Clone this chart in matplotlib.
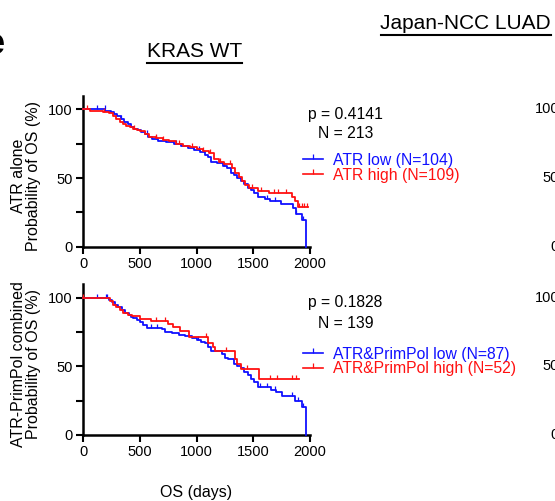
import numpy as np
import matplotlib
matplotlib.use('Agg')
import matplotlib.pyplot as plt
from matplotlib.lines import Line2D

plt.rcParams['font.family'] = ['Liberation Sans', 'DejaVu Sans']

# KM curves: step times (days) and survival (%)
top_low_t = [0, 195, 240, 270, 300, 330, 360, 390, 420, 450, 480, 510, 540, 570, 610, 660, 730, 800, 860,
             920, 980, 1030, 1070, 1100, 1130, 1180, 1230, 1270, 1300, 1330, 1360, 1390, 1420, 1450, 1480,
             1510, 1540, 1600, 1650, 1740, 1850, 1880, 1930, 1965]
top_low_s = [100, 99, 98, 96.5, 95, 93, 91, 89, 87.5, 86, 85, 83.5, 82, 80, 78.5, 77, 76, 75, 73,
             72, 70.5, 69, 67, 65, 62, 61, 59, 57, 54, 52, 50, 48, 46, 43, 41,
             39, 36, 35, 33, 31, 28.5, 24, 19.5, 0]
top_low_end = 1965
top_low_cens = [120, 190, 330, 560, 640, 820, 1020, 1240, 1620, 1690, 1880, 1940]

top_high_t = [0, 60, 170, 230, 260, 290, 320, 350, 380, 410, 440, 470, 500, 540, 580, 640, 700, 760, 820,
              880, 940, 1000, 1060, 1110, 1150, 1200, 1240, 1310, 1340, 1370, 1400, 1430, 1460, 1540, 1640,
              1840, 1870, 1895]
top_high_s = [100, 99, 98, 97, 95, 93, 91, 89.5, 88, 87, 86, 85, 84, 82, 80, 79, 78, 77, 75,
              73.5, 72.5, 71, 69.5, 68, 64, 62, 60, 57, 54, 51, 48, 45, 42.5, 40.5, 39,
              36.5, 33, 29]
top_high_end = 1985
top_high_cens = [30, 180, 450, 640, 700, 840, 960, 1060, 1120, 1210, 1290, 1490, 1570, 1680, 1720, 1790,
                 1900, 1930, 1950, 1970]

bot_low_t = [0, 225, 250, 280, 310, 340, 370, 400, 420, 440, 470, 500, 530, 560, 690, 720, 780, 840, 900,
             960, 1000, 1040, 1070, 1100, 1130, 1220, 1250, 1280, 1330, 1360, 1390, 1420, 1450, 1480, 1510,
             1545, 1660, 1700, 1750, 1870, 1930, 1965]
bot_low_s = [100, 98, 96.6, 94.7, 93, 91, 89, 87.4, 86, 85, 84, 82.5, 80, 78, 77, 75, 74, 73, 72,
             70.4, 69, 68, 66.7, 64, 61, 59, 56, 55, 52, 50.5, 48.5, 46, 43.7, 41, 38.8,
             35, 33, 31.5, 28.4, 25, 20.6, 0]
bot_low_end = 1965
bot_low_cens = [121, 196, 210, 600, 650, 1010, 1560, 1620, 1690, 1840, 1890, 1940]

bot_high_t = [0, 235, 260, 290, 320, 350, 390, 430, 500, 600, 750, 790, 850, 930, 1100, 1140, 1165, 1335,
              1355, 1390, 1550]
bot_high_s = [100, 97.5, 95, 93, 91, 89, 87, 86.5, 84.5, 83, 81, 78.5, 75.5, 71.6, 67, 64, 60.9, 55,
              52, 47.7, 40.8]
bot_high_end = 1900
bot_high_cens = [0, 640, 720, 1080, 1260, 1440, 1647, 1707, 1840, 1876]

x_ticks = [0, 500, 1000, 1500, 2000]
y_ticks = [0, 50, 100]
blue = '#1010ff'
red = '#ff1010'


def km(ax, t, s, end, cens, color):
    t = np.array(t, float)
    s = np.array(s, float)
    tt = np.append(t, end)
    ss = np.append(s, s[-1])
    ax.step(tt, ss, where='post', color=color, lw=1.3, clip_on=False, zorder=3)
    idx = np.searchsorted(t, cens, side='right') - 1
    ax.plot(cens, s[idx], ls='none', marker=2, ms=3, mew=0.9, color=color, clip_on=False, zorder=3)


def style(ax):
    ax.set_xlim(0, 2000)
    ax.set_ylim(0, 110)
    ax.set_xticks(x_ticks)
    ax.set_yticks(y_ticks)
    ax.set_yticks([25, 75], minor=True)
    for sp in ['top', 'right']:
        ax.spines[sp].set_visible(False)
    for sp in ['left', 'bottom']:
        ax.spines[sp].set_linewidth(1.8)
    ax.tick_params(which='both', length=5, width=1.5, labelsize=10.5, pad=2.5)


fig = plt.figure(figsize=(5.55, 5.01), dpi=100)
W, H = 555, 501
ax1 = fig.add_axes([83.3 / W, 1 - 246.7 / H, 226.7 / W, 151.1 / H])
ax2 = fig.add_axes([83.3 / W, 1 - 435 / H, 226.7 / W, 151.1 / H])

km(ax1, top_low_t, top_low_s, top_low_end, top_low_cens, blue)
km(ax1, top_high_t, top_high_s, top_high_end, top_high_cens, red)
km(ax2, bot_low_t, bot_low_s, bot_low_end, bot_low_cens, blue)
km(ax2, bot_high_t, bot_high_s, bot_high_end, bot_high_cens, red)

for ax in (ax1, ax2):
    style(ax)

ax1.set_ylabel('ATR alone\nProbability of OS (%)', fontsize=11.5, linespacing=1.05)
ax2.set_ylabel('ATR-PrimPol combined\nProbability of OS (%)', fontsize=11.5, linespacing=1.05)
ax1.yaxis.set_label_coords(-0.185, 0.47)
ax2.yaxis.set_label_coords(-0.185, 0.47)

fig.text(196 / W, 1 - 492 / H, 'OS (days)', ha='center', va='center', fontsize=11.5)

# p values / N
fig.text(308 / W, 1 - 115 / H, 'p = 0.4141', va='center', fontsize=11.3)
fig.text(318 / W, 1 - 133 / H, 'N = 213', va='center', fontsize=11.3)
fig.text(308 / W, 1 - 303 / H, 'p = 0.1828', va='center', fontsize=11.3)
fig.text(318 / W, 1 - 323 / H, 'N = 139', va='center', fontsize=11.3)

# legends
for ax, labels, yc in [(ax1, ['ATR low (N=104)', 'ATR high (N=109)'], 167.5),
                       (ax2, ['ATR&PrimPol low (N=87)', 'ATR&PrimPol high (N=52)'], 361.5)]:
    hs = [Line2D([], [], color=c, lw=1.2, marker=2, ms=3.5, mew=0.9) for c in (blue, red)]
    ax.legend(hs, labels, loc='center left', bbox_to_anchor=(303 / W, 1 - yc / H),
              bbox_transform=fig.transFigure, frameon=False, fontsize=11.3, handlelength=1.3,
              handletextpad=0.6, labelspacing=0.0, borderpad=0, borderaxespad=0,
              labelcolor='linecolor', numpoints=1)

# titles with underline
t1 = fig.text(147 / W, 1 - 56.6 / H, 'KRAS WT', va='baseline', fontsize=15)
t2 = fig.text(380.5 / W, 1 - 29 / H, 'Japan-NCC LUAD', va='baseline', fontsize=15)
fig.text(5 / W, 1 - 44 / H, 'e', ha='right', va='center', fontsize=26, weight='bold')

# cut-off tick labels of the next panel
for yp, lab in [(109.3, '100'), (178, '50'), (246.7, '0'), (297.7, '100'), (366.4, '50'), (435, '0')]:
    fig.text(559 / W, 1 - yp / H, lab, ha='right', va='center', fontsize=10.5)

r = fig.canvas.get_renderer()
for t, dy in [(t1, 4.5), (t2, 3.5)]:
    bb = t.get_window_extent(r)
    yl = (bb.y0 - dy + 2) / H
    fig.add_artist(Line2D([bb.x0 / W, bb.x1 / W], [yl, yl], color='black', lw=1.5))

fig.savefig('out.png', dpi=100)
